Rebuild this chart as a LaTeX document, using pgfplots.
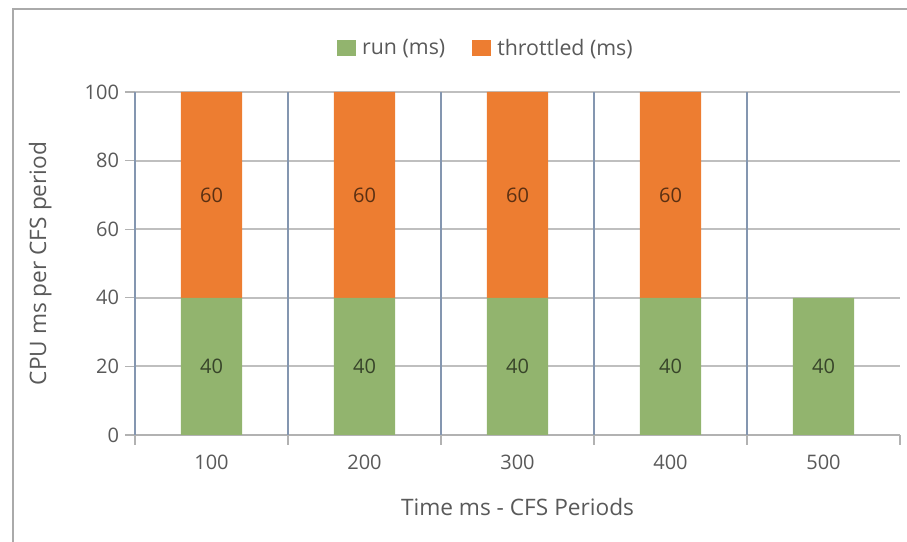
\documentclass[border=0pt]{standalone}
\usepackage{fontspec}
\setmainfont{Open Sans}
\usepackage{pgfplots}
\pgfplotsset{compat=1.18}
\definecolor{runc}{RGB}{146,180,110}
\definecolor{thrc}{RGB}{237,125,49}
\definecolor{vgrid}{RGB}{132,150,176}
\definecolor{hgrid}{RGB}{191,191,191}
\definecolor{txt}{RGB}{89,89,89}
\definecolor{frame}{RGB}{170,170,170}
\begin{document}
\begin{tikzpicture}
\useasboundingbox (0,0) rectangle (680.25pt,406.5pt);
\draw[frame, line width=0.8pt] (9.75pt,0) -- (9.75pt,399.75pt) -- (680.25pt,399.75pt);
\begin{axis}[
  at={(101.25pt,80.25pt)}, anchor=south west,
  scale only axis, width=573.75pt, height=257.25pt,
  /pgf/number format/assume math mode=true,
  ybar stacked, bar width=0.4,
  xmin=0.5, xmax=5.5, ymin=0, ymax=100,
  xtick={1,2,3,4,5}, xticklabels={100,200,300,400,500},
  minor xtick={0.5,1.5,2.5,3.5,4.5,5.5},
  extra x ticks={1.5,2.5,3.5,4.5}, extra x tick labels={},
  extra x tick style={grid=major, major grid style={vgrid, line width=1.3pt}, major tick length=0pt},
  ytick={0,20,40,60,80,100},
  ymajorgrids=true,
  major grid style={hgrid, line width=1.5pt},
  tick align=outside,
  major tick length=7.5pt, minor tick length=7.5pt,
  major x tick style={draw=none},
  minor x tick style={draw=hgrid!80!gray, line width=1pt},
  ytick style={draw=hgrid!80!gray, line width=1pt},
  axis x line*=bottom, axis y line*=left,
  x axis line style={-, draw=hgrid!80!gray, line width=1.3pt},
  y axis line style={-, draw=vgrid, line width=1.3pt},
  tick label style={font=\fontsize{15}{18}\selectfont, text=txt},
  xticklabel style={yshift=-4pt},
  yticklabel style={xshift=-1pt},
  xlabel={Time ms - CFS Periods},
  ylabel={CPU ms per CFS period},
  label style={font=\fontsize{17}{20}\selectfont, text=txt},
  xlabel style={at={(axis description cs:0.5,-0.21)}, anchor=center},
  ylabel style={at={(axis description cs:-0.124,0.5)}, anchor=center},
  legend style={at={(axis description cs:0.459,1.128)}, anchor=center, draw=none,
    legend columns=2, font=\fontsize{16}{19}\selectfont, text=txt,
    /tikz/every odd column/.append style={column sep=3pt},
    /tikz/every even column/.append style={column sep=18pt}},
  legend image code/.code={\fill[#1] (-4pt,-6pt) rectangle (10pt,6pt);},
  nodes near coords={\pgfmathprintnumber{\pgfplotspointmeta}},
  point meta=rawy,
  every node near coord/.append style={font=\fontsize{15}{18}\selectfont, text=black, text opacity=0.62, anchor=center},
]
\addplot[fill=runc, draw=none]
  coordinates {(1,40) (2,40) (3,40) (4,40) (5,40)};
\addlegendentry{run (ms)}
\addplot[fill=thrc, draw=none]
  coordinates {(1,60) (2,60) (3,60) (4,60)};
\addlegendentry{throttled (ms)}
\end{axis}
\end{tikzpicture}
\end{document}
